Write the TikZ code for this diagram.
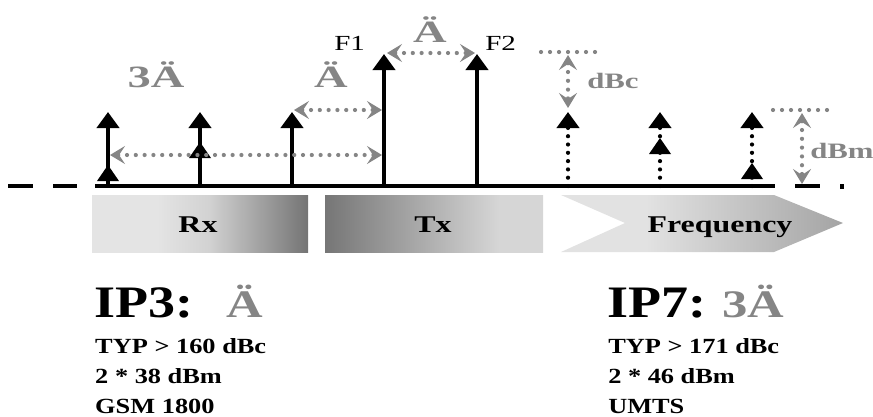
\documentclass[tikz,border=0pt]{standalone}
\usepackage{fontspec}
\setmainfont{Liberation Serif}
\usetikzlibrary{arrows.meta}
\definecolor{markgray}{HTML}{858585}
\definecolor{rxl}{HTML}{E4E4E4}
\definecolor{rxm}{HTML}{D2D2D2}
\definecolor{rxr}{HTML}{747474}
\definecolor{txl}{HTML}{767676}
\definecolor{txr}{HTML}{D6D6D6}
\definecolor{fql}{HTML}{E2E2E2}
\definecolor{fqr}{HTML}{A4A4A4}
\pgfdeclarehorizontalshading{rxfill}{100bp}{color(0bp)=(rxl); color(25bp)=(rxl); color(40bp)=(rxl); color(52bp)=(rxm); color(75bp)=(rxr); color(100bp)=(rxr)}
\pgfdeclarehorizontalshading{txfill}{100bp}{color(0bp)=(txl); color(25bp)=(txl); color(65bp)=(txr); color(75bp)=(txr); color(100bp)=(txr)}
\pgfdeclarehorizontalshading{fqfill}{100bp}{color(0bp)=(fql); color(25bp)=(fql); color(40bp)=(fql); color(75bp)=(fqr); color(100bp)=(fqr)}
\tikzset{
  axisline/.style={line width=4pt, black},
  stem/.style={line width=4pt, black, -{Triangle[width=22pt,length=16pt]}},
  dotstem/.style={line width=4.2pt, black, line cap=round, dash pattern=on 0pt off 8.3pt,
    -{Triangle[width=22pt,length=16pt]}},
  spacing/.style={line width=4.2pt, markgray, line cap=round, dash pattern=on 0pt off 8.8pt,
    {Stealth[width=18pt,length=15pt,inset=6pt]}-{Stealth[width=18pt,length=15pt,inset=6pt]}},
  levelline/.style={line width=4.2pt, markgray, line cap=round, dash pattern=on 0pt off 9pt},
  head/.pic={\fill[black] (-11,16) -- (0,0) -- (11,16) -- cycle;},
  deltalabel/.style={anchor=base, inner sep=0pt, text=markgray, xscale=1.5,
    font=\bfseries\fontsize{31}{31}\selectfont},
  freqlabel/.style={anchor=base west, inner sep=0pt, xscale=1.35,
    font=\fontsize{21.5}{22}\selectfont},
  dblabel/.style={anchor=base west, inner sep=0pt, text=markgray, xscale=1.4,
    font=\bfseries\fontsize{22}{22}\selectfont},
  barlabel/.style={anchor=base, inner sep=0pt, xscale=1.33,
    font=\bfseries\fontsize{24}{24}\selectfont},
  iptitle/.style={anchor=base west, inner sep=0pt, xscale=1.2,
    font=\bfseries\fontsize{45}{45}\selectfont},
  ipdelta/.style={anchor=base west, inner sep=0pt, xscale=1.3, text=markgray,
    font=\bfseries\fontsize{39}{39}\selectfont},
  spec/.style={anchor=base west, inner sep=0pt, xscale=1.22,
    font=\bfseries\fontsize{21.6}{22}\selectfont},
}
\begin{document}
\begin{tikzpicture}[x=1pt,y=-1pt]
\useasboundingbox (0,0) rectangle (873,416);

% frequency bands
\shade[shading=rxfill] (92,195) rectangle (308,252);
\shade[shading=txfill] (325,195) rectangle (543,252);
\shade[shading=fqfill] (561,195) -- (774,195) -- (843,223) -- (774,252) -- (561,252) -- (625,223) -- cycle;
\node[barlabel] (rx) at (198,232) {Rx};
\node[barlabel] (tx) at (433,232) {Tx};
\node[barlabel] (fq) at (720,232) {Frequency};

% frequency axis
\draw[axisline] (8,186) -- (33,186);
\draw[axisline] (53,186) -- (77,186);
\draw[axisline] (95,186) -- (775,186);
\draw[axisline] (795,186) -- (820,186);
\fill[black] (839.5,184) rectangle (843.5,189);

% base and tip points of the spectral lines
\coordinate (b1) at (108,186); \coordinate (t1) at (108,112);
\coordinate (b2) at (200,186); \coordinate (t2) at (200,112);
\coordinate (b3) at (292,186); \coordinate (t3) at (292,112);
\coordinate (bf1) at (384,186); \coordinate (tf1) at (384,54);
\coordinate (bf2) at (477,186); \coordinate (tf2) at (477,54);
\coordinate (b5) at (568,186); \coordinate (t5) at (568,112);
\coordinate (b6) at (660,186); \coordinate (t6) at (660,112);
\coordinate (b7) at (752,186); \coordinate (t7) at (752,112);

% carriers and Rx intermodulation products
\draw[stem] (b1) -- (t1);
\draw[stem] (b2) -- (t2);
\draw[stem] (b3) -- (t3);
\draw[stem] (bf1) -- (tf1);
\draw[stem] (bf2) -- (tf2);
\pic at (108,165) {head};
\pic at (200,142) {head};

% products above Tx (dotted)
\draw[dotstem] (b5) -- (t5);
\draw[dotstem] (b6) -- (t6);
\draw[dotstem] (b7) -- (t7);
\pic at (660,138) {head};
\pic at (752,163) {head};

% spacing markers
\coordinate (s1a) at (110,155); \coordinate (s1b) at (382,155);
\coordinate (s2a) at (294,110); \coordinate (s2b) at (382,110);
\coordinate (s3a) at (387,53);  \coordinate (s3b) at (475,53);
\draw[spacing] (s1a) -- (s1b);
\draw[spacing] (s2a) -- (s2b);
\draw[spacing] (s3a) -- (s3b);

% level markers
\coordinate (c1) at (541,52); \coordinate (c2) at (597,52);
\coordinate (ca) at (568,55); \coordinate (cb) at (568,108);
\draw[levelline] (c1) -- (c2);
\draw[spacing] (ca) -- (cb);
\coordinate (m1) at (773,110); \coordinate (m2) at (829,110);
\coordinate (ma) at (802,113); \coordinate (mb) at (802,184);
\draw[levelline] (m1) -- (m2);
\draw[spacing] (ma) -- (mb);

% labels
\node[deltalabel] (d3) at (156,87) {3Ä};
\node[deltalabel] (d1) at (331,87) {Ä};
\node[deltalabel] (d2) at (430,42) {Ä};
\node[freqlabel] (f1) at (334,50) {F1};
\node[freqlabel] (f2) at (485,50) {F2};
\node[dblabel] (dbc) at (587,88) {dBc};
\node[dblabel] (dbm) at (810,158) {dBm};

% IP3 specification
\node[iptitle] (ip3) at (94,317) {IP3:};
\node[ipdelta] (ip3d) at (226,317) {Ä};
\node[spec] (ip3a) at (95,353) {TYP > 160 dBc};
\node[spec] (ip3b) at (95,383) {2 * 38 dBm};
\node[spec] (ip3c) at (95,413) {GSM 1800};

% IP7 specification
\node[iptitle] (ip7) at (607,317) {IP7:};
\node[ipdelta] (ip7d) at (722,317) {3Ä};
\node[spec] (ip7a) at (608,353) {TYP > 171 dBc};
\node[spec] (ip7b) at (608,383) {2 * 46 dBm};
\node[spec] (ip7c) at (608,413) {UMTS};
\end{tikzpicture}
\end{document}
